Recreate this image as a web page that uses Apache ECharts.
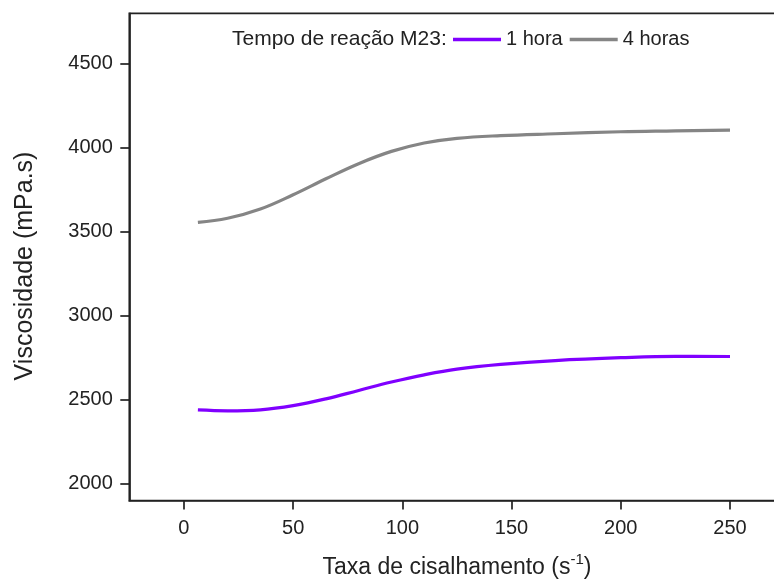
<!DOCTYPE html>
<html>
<head>
<meta charset="utf-8">
<script src="https://cdn.jsdelivr.net/npm/echarts@6/dist/echarts.min.js"></script>
<style>html,body{margin:0;padding:0;background:#fff;}#c{width:774px;height:579px;}</style>
</head>
<body>
<div id="c"></div>
<script>
var shearRate = [6.4, 20, 35, 50, 65, 80, 95, 110, 125, 145, 170, 200, 225, 250];
var visc1h = [2439, 2434, 2440, 2465, 2505, 2555, 2605, 2648, 2682, 2710, 2733, 2750, 2758, 2757];
var visc4h = [3556, 3580, 3635, 3720, 3815, 3905, 3978, 4028, 4056, 4072, 4083, 4095, 4100, 4105];
var xTicks = [0, 50, 100, 150, 200, 250];
var yTicks = [2000, 2500, 3000, 3500, 4000, 4500];
var seriesNames = ['1 hora', '4 horas'];
var legendTitle = 'Tempo de reação M23:';
var xTitle = 'Taxa de cisalhamento (s';
var xTitleSup = '-1';
var yTitle = 'Viscosidade (mPa.s)';

function pairs(xs, ys) { return xs.map(function (x, i) { return [x, ys[i]]; }); }

var FONT = '"Liberation Sans", Arial, sans-serif';
var AX = '#222';
var chart = echarts.init(document.getElementById('c'));
chart.setOption({
  animation: false,
  backgroundColor: '#fff',
  grid: { left: 129.3, top: 13.3, right: -10.6, bottom: 78.5, outerBoundsMode: 'none', containLabel: false,
    show: true, borderColor: AX, borderWidth: 1.7, backgroundColor: 'transparent' },
  legend: {
    left: 453, top: 29.5, padding: 0, itemWidth: 48, itemHeight: 3.5, itemGap: 7,
    icon: 'rect',
    textStyle: { fontFamily: FONT, fontSize: 20, color: AX },
    data: seriesNames
  },
  graphic: [
    { type: 'text', left: 232, top: 29, style: { text: legendTitle, font: '21px ' + FONT, fill: AX } },
    { type: 'text', x: 25, y: 266, rotation: Math.PI / 2,
      style: { text: yTitle, font: '25px ' + FONT, fill: AX, align: 'center', verticalAlign: 'middle' } }
  ],
  xAxis: {
    type: 'value', min: -25, max: 275,
    name: '{m|' + xTitle + '}{s|' + xTitleSup + '}{m|)}',
    nameLocation: 'middle', nameGap: 52,
    nameTextStyle: {
      rich: {
        m: { fontFamily: FONT, fontSize: 23, color: AX, lineHeight: 30 },
        s: { fontFamily: FONT, fontSize: 15, color: AX, lineHeight: 14, verticalAlign: 'top' }
      }
    },
    axisLine: { show: true, onZero: false, lineStyle: { color: AX, width: 1.7 } },
    axisTick: { show: true, length: 9, lineStyle: { color: AX, width: 1.7 }, customValues: xTicks },
    axisLabel: { show: true, margin: 18, fontFamily: FONT, fontSize: 20, color: AX, customValues: xTicks,
      formatter: function (v) { return String(v); } },
    splitLine: { show: false }
  },
  yAxis: {
    type: 'value', min: 1900, max: 4800,
    axisLine: { show: true, onZero: false, lineStyle: { color: AX, width: 1.7 } },
    axisTick: { show: true, length: 9, lineStyle: { color: AX, width: 1.7 }, customValues: yTicks },
    axisLabel: { show: true, margin: 16.5, fontFamily: FONT, fontSize: 20, color: AX, customValues: yTicks,
      formatter: function (v) { return String(v); } },
    splitLine: { show: false }
  },
  series: [
    { name: seriesNames[0], type: 'line', smooth: 0.4, symbol: 'none', data: pairs(shearRate, visc1h),
      lineStyle: { color: '#8000ff', width: 3.2 }, itemStyle: { color: '#8000ff' } },
    { name: seriesNames[1], type: 'line', smooth: 0.4, symbol: 'none', data: pairs(shearRate, visc4h),
      lineStyle: { color: '#858585', width: 3.2 }, itemStyle: { color: '#858585' } }
  ]
});
</script>
</body>
</html>
